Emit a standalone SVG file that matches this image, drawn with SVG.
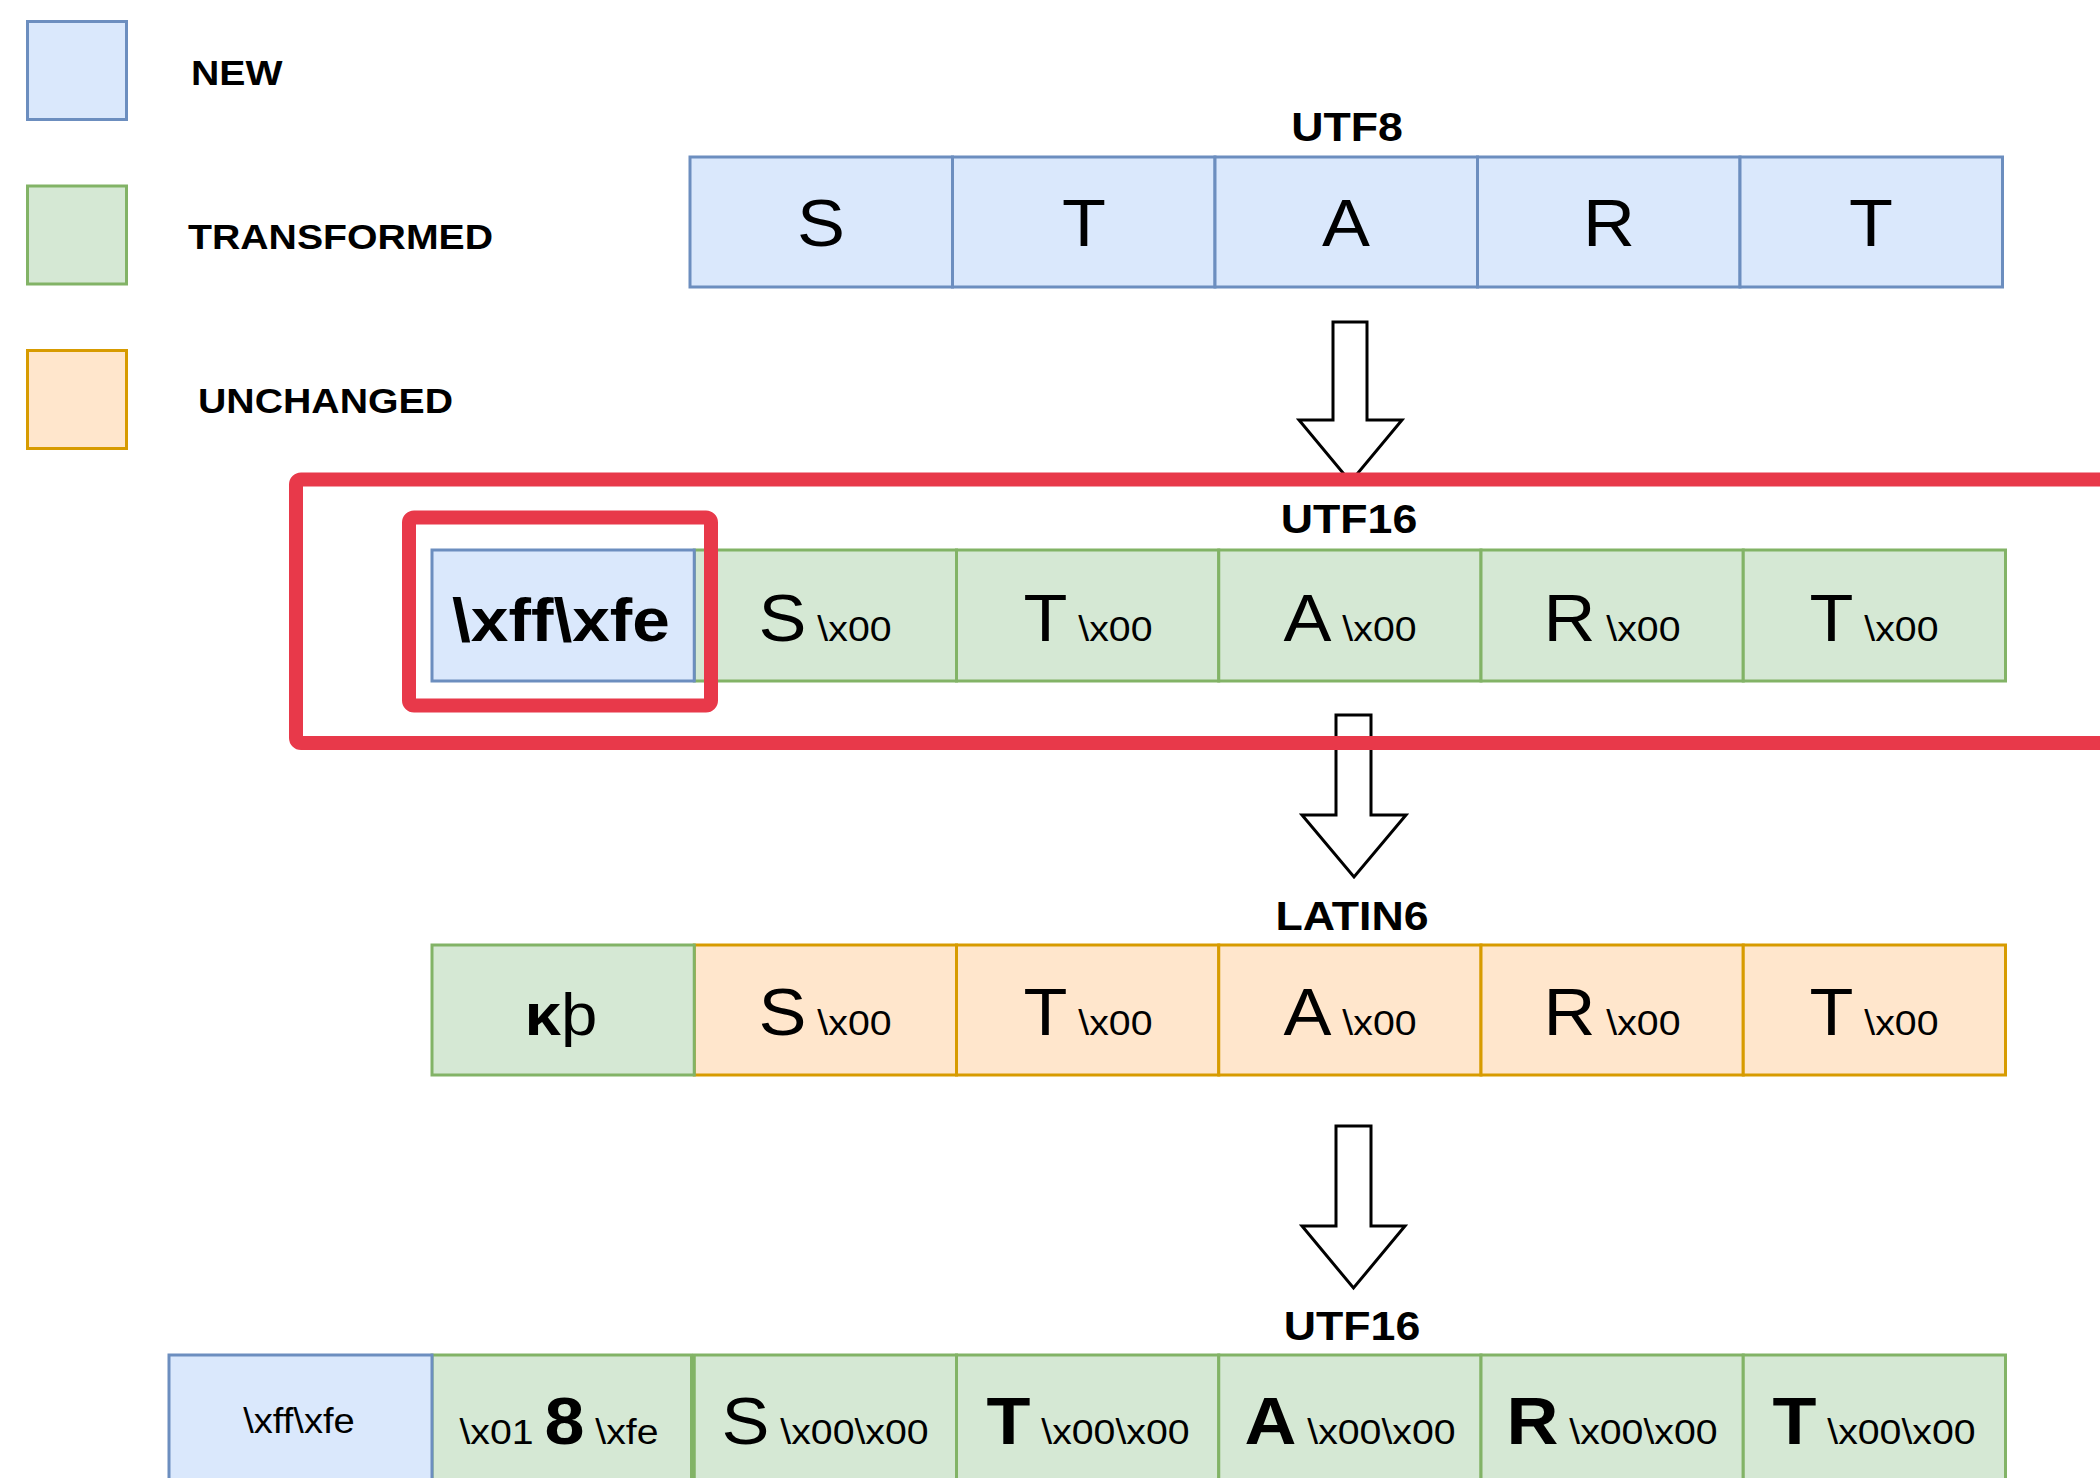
<svg xmlns="http://www.w3.org/2000/svg" width="2100" height="1478" viewBox="0 0 2100 1478">
  <style>
    text { font-family: "Liberation Sans", Arial, Helvetica, sans-serif; fill: #000; }
    .blue { fill: #dae8fc; stroke: #6c8ebf; stroke-width: 3; }
    .green { fill: #d5e8d4; stroke: #82b366; stroke-width: 3; }
    .orange { fill: #ffe6cc; stroke: #d79b00; stroke-width: 3; }
    .legend { font-size: 36px; font-weight: bold; }
    .title { font-size: 41px; font-weight: bold; text-anchor: middle; }
    .cell { font-size: 66px; text-anchor: middle; }
    .big { font-size: 66px; }
    .bigb { font-size: 66px; font-weight: bold; }
    .small { font-size: 36px; font-weight: normal; }
    .arrow { fill: #fff; stroke: #000; stroke-width: 3; stroke-linejoin: miter; }
    .mark { fill: none; stroke: #e8394a; stroke-width: 14; }
  </style>
  <rect width="2100" height="1478" fill="#fff"/>

  <!-- legend -->
  <g id="legend-new">
    <rect class="blue" x="27.5" y="21.5" width="99" height="98"/>
    <text class="legend" transform="translate(191 85) scale(1.09 1)">NEW</text>
  </g>
  <g id="legend-transformed">
    <rect class="green" x="27.5" y="186" width="99" height="98"/>
    <text class="legend" transform="translate(188 249) scale(1.09 1)">TRANSFORMED</text>
  </g>
  <g id="legend-unchanged">
    <rect class="orange" x="27.5" y="350.5" width="99" height="98"/>
    <text class="legend" transform="translate(198 413) scale(1.09 1)">UNCHANGED</text>
  </g>

  <!-- block arrows between the encodings -->
  <g id="connectors">
    <path id="arrow-utf8-utf16" class="arrow" d="M1333,322 H1367 V420 H1402 L1350.5,482 L1299,420 H1333 Z"/>
    <path id="arrow-utf16-latin6" class="arrow" d="M1336,715 H1371 V815 H1406 L1354,877 L1302,815 H1336 Z"/>
    <path id="arrow-latin6-utf16" class="arrow" d="M1336,1126 H1371 V1226 H1405 L1353.5,1288 L1302,1226 H1336 Z"/>
  </g>

  <!-- UTF8 row -->
  <g id="row-utf8">
    <text class="title" transform="translate(1347 141) scale(1.09 1)">UTF8</text>
    <rect class="blue" x="690" y="157" width="262.5" height="130"/>
    <rect class="blue" x="952.5" y="157" width="262.5" height="130"/>
    <rect class="blue" x="1215" y="157" width="262.5" height="130"/>
    <rect class="blue" x="1477.5" y="157" width="262.5" height="130"/>
    <rect class="blue" x="1740" y="157" width="262.5" height="130"/>
    <text class="cell" transform="translate(821 246) scale(1.09 1)">S</text>
    <text class="cell" transform="translate(1084 246) scale(1.09 1)">T</text>
    <text class="cell" transform="translate(1346 246) scale(1.09 1)">A</text>
    <text class="cell" transform="translate(1609 246) scale(1.09 1)">R</text>
    <text class="cell" transform="translate(1871 246) scale(1.09 1)">T</text>
  </g>

  <!-- UTF16 row -->
  <g id="row-utf16">
    <text class="title" transform="translate(1349 533) scale(1.09 1)">UTF16</text>
    <rect class="green" x="694.25" y="550" width="262.25" height="131"/>
    <rect class="green" x="956.5" y="550" width="262.25" height="131"/>
    <rect class="green" x="1218.75" y="550" width="262.25" height="131"/>
    <rect class="green" x="1481" y="550" width="262.25" height="131"/>
    <rect class="green" x="1743.25" y="550" width="262.25" height="131"/>
    <rect class="blue" x="432" y="550" width="262.25" height="131"/>
    <text class="cell" transform="translate(561 641) scale(1.09 1)" style="font-size:62px;font-weight:bold">\xff\xfe</text>
    <text class="cell" transform="translate(825 641) scale(1.09 1)"><tspan class="big">S</tspan><tspan class="small"> \x00</tspan></text>
    <text class="cell" transform="translate(1088 641) scale(1.09 1)"><tspan class="big">T</tspan><tspan class="small"> \x00</tspan></text>
    <text class="cell" transform="translate(1350 641) scale(1.09 1)"><tspan class="big">A</tspan><tspan class="small"> \x00</tspan></text>
    <text class="cell" transform="translate(1612 641) scale(1.09 1)"><tspan class="big">R</tspan><tspan class="small"> \x00</tspan></text>
    <text class="cell" transform="translate(1874 641) scale(1.09 1)"><tspan class="big">T</tspan><tspan class="small"> \x00</tspan></text>
  </g>

  <!-- LATIN6 row -->
  <g id="row-latin6">
    <text class="title" transform="translate(1352 930) scale(1.09 1)">LATIN6</text>
    <rect class="orange" x="694.25" y="945" width="262.25" height="130"/>
    <rect class="orange" x="956.5" y="945" width="262.25" height="130"/>
    <rect class="orange" x="1218.75" y="945" width="262.25" height="130"/>
    <rect class="orange" x="1481" y="945" width="262.25" height="130"/>
    <rect class="orange" x="1743.25" y="945" width="262.25" height="130"/>
    <rect class="green" x="432" y="945" width="262.25" height="130"/>
    <text class="cell" transform="translate(561 1035) scale(1.09 1)" style="font-size:60px"><tspan font-weight="bold">κ</tspan>þ</text>
    <text class="cell" transform="translate(825 1035) scale(1.09 1)"><tspan class="big">S</tspan><tspan class="small"> \x00</tspan></text>
    <text class="cell" transform="translate(1088 1035) scale(1.09 1)"><tspan class="big">T</tspan><tspan class="small"> \x00</tspan></text>
    <text class="cell" transform="translate(1350 1035) scale(1.09 1)"><tspan class="big">A</tspan><tspan class="small"> \x00</tspan></text>
    <text class="cell" transform="translate(1612 1035) scale(1.09 1)"><tspan class="big">R</tspan><tspan class="small"> \x00</tspan></text>
    <text class="cell" transform="translate(1874 1035) scale(1.09 1)"><tspan class="big">T</tspan><tspan class="small"> \x00</tspan></text>
  </g>

  <!-- final UTF16 row -->
  <g id="row-utf16-final">
    <text class="title" transform="translate(1352 1340) scale(1.09 1)">UTF16</text>
    <rect class="green" x="432" y="1355" width="259.5" height="135"/>
    <rect class="green" x="694.25" y="1355" width="262.25" height="135"/>
    <rect class="green" x="956.5" y="1355" width="262.25" height="135"/>
    <rect class="green" x="1218.75" y="1355" width="262.25" height="135"/>
    <rect class="green" x="1481" y="1355" width="262.25" height="135"/>
    <rect class="green" x="1743.25" y="1355" width="262.25" height="135"/>
    <rect class="blue" x="169" y="1355" width="263" height="135"/>
    <text class="cell" transform="translate(299 1433) scale(1.09 1)" style="font-size:35px">\xff\xfe</text>
    <text class="cell" transform="translate(559 1444) scale(1.09 1)"><tspan class="small">\x01 </tspan><tspan style="font-size:66px;font-weight:bold">8</tspan><tspan class="small"> \xfe</tspan></text>
    <text class="cell" transform="translate(825 1444) scale(1.09 1)"><tspan class="big">S</tspan><tspan class="small"> \x00\x00</tspan></text>
    <text class="cell" transform="translate(1088 1444) scale(1.09 1)"><tspan class="bigb">T</tspan><tspan class="small"> \x00\x00</tspan></text>
    <text class="cell" transform="translate(1350 1444) scale(1.09 1)"><tspan class="bigb">A</tspan><tspan class="small"> \x00\x00</tspan></text>
    <text class="cell" transform="translate(1612 1444) scale(1.09 1)"><tspan class="bigb">R</tspan><tspan class="small"> \x00\x00</tspan></text>
    <text class="cell" transform="translate(1874 1444) scale(1.09 1)"><tspan class="bigb">T</tspan><tspan class="small"> \x00\x00</tspan></text>
  </g>

  <!-- highlight frames around the UTF16 row and its byte-order mark -->
  <g id="highlight">
    <rect class="mark" x="296" y="479.5" width="1830" height="263.5" rx="5"/>
    <rect class="mark" x="409" y="517.5" width="302" height="188" rx="5"/>
  </g>
</svg>
